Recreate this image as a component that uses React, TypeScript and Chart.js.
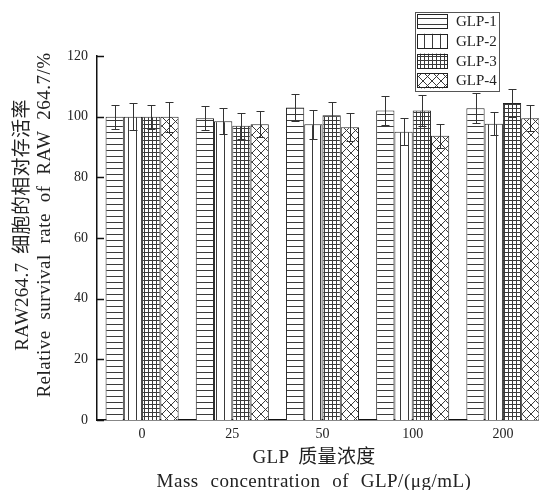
import { useEffect, useRef } from 'react';
import { Chart, registerables } from 'chart.js';

Chart.register(...registerables);

const categories = ['0', '25', '50', '100', '200'];
const seriesNames = ['GLP-1', 'GLP-2', 'GLP-3', 'GLP-4'];
const glp1Values = [100, 99.5, 103, 102, 102.8];
const glp2Values = [100, 98.5, 97.5, 95, 97.7];
const glp3Values = [100, 97, 100.5, 102, 104.5];
const glp4Values = [100, 97.5, 96.5, 93.7, 99.5];
const glp1Errors = [4, 4, 4.4, 4.8, 5];
const glp2Errors = [4.5, 4.2, 4.8, 4.4, 3.9];
const glp3Errors = [4, 4.3, 4.3, 5, 4.5];
const glp4Errors = [5, 4.3, 4.6, 3.9, 4.2];
const yTickValues = [0, 20, 40, 60, 80, 100, 120];
const yTitleLines = ['RAW264.7 细胞的相对存活率', 'Relative survival rate of RAW 264.7/%'];
const xTitleLines = ['GLP 质量浓度', 'Mass concentration of GLP/(μg/mL)'];

const FONT = '"Liberation Serif", "Noto Sans CJK SC", serif';
const INK = '#222';

const seriesValues = [glp1Values, glp2Values, glp3Values, glp4Values];
const seriesErrors = [glp1Errors, glp2Errors, glp3Errors, glp4Errors];
const patternKinds = ['h', 'v', 'grid', 'cross'];

function makePattern(kind: string): CanvasPattern {
  const c = document.createElement('canvas');
  const size = kind === 'h' ? 6 : kind === 'v' ? 8 : kind === 'grid' ? 4 : 9;
  c.width = size;
  c.height = size;
  const g = c.getContext('2d')!;
  g.fillStyle = '#fff';
  g.fillRect(0, 0, size, size);
  g.strokeStyle = '#3a3a3a';
  g.lineWidth = 1;
  g.beginPath();
  if (kind === 'h') {
    g.moveTo(0, 0.5);
    g.lineTo(size, 0.5);
  } else if (kind === 'v') {
    g.moveTo(0.5, 0);
    g.lineTo(0.5, size);
  } else if (kind === 'grid') {
    g.moveTo(0, 0.5);
    g.lineTo(size, 0.5);
    g.moveTo(0.5, 0);
    g.lineTo(0.5, size);
  } else {
    g.moveTo(-1, -1);
    g.lineTo(size + 1, size + 1);
    g.moveTo(size + 1, -1);
    g.lineTo(-1, size + 1);
  }
  g.stroke();
  return g.createPattern(c, 'repeat')!;
}

const errorBarPlugin = {
  id: 'errorBars',
  afterDatasetsDraw(chart: any) {
    const ctx = chart.ctx;
    const yScale = chart.scales.y;
    ctx.save();
    ctx.strokeStyle = '#333';
    ctx.lineWidth = 1;
    chart.data.datasets.forEach((_ds: any, i: number) => {
      const meta = chart.getDatasetMeta(i);
      meta.data.forEach((el: any, j: number) => {
        const v = seriesValues[i][j];
        const e = seriesErrors[i][j];
        const x = Math.round(el.x) + 0.5;
        const yt = Math.round(yScale.getPixelForValue(v + e)) + 0.5;
        const yb = Math.round(yScale.getPixelForValue(v - e)) + 0.5;
        ctx.beginPath();
        ctx.moveTo(x, yt);
        ctx.lineTo(x, yb);
        ctx.moveTo(x - 4, yt);
        ctx.lineTo(x + 4, yt);
        ctx.moveTo(x - 4, yb);
        ctx.lineTo(x + 4, yb);
        ctx.stroke();
      });
    });
    ctx.restore();
  },
};

const innerTicksPlugin = {
  id: 'innerTicks',
  afterDraw(chart: any) {
    const ctx = chart.ctx;
    const yScale = chart.scales.y;
    const left = chart.chartArea.left;
    ctx.save();
    ctx.strokeStyle = '#111';
    ctx.lineWidth = 1.5;
    yTickValues.forEach((v) => {
      const y = Math.round(yScale.getPixelForValue(v)) + 0.5;
      ctx.beginPath();
      ctx.moveTo(left, y);
      ctx.lineTo(left + 7, y);
      ctx.stroke();
    });
    ctx.restore();
  },
};

const legendPlugin = {
  id: 'patternLegend',
  afterDraw(chart: any) {
    const ctx = chart.ctx;
    const bx = 415.5;
    const by = 12.5;
    const bw = 84;
    const bh = 79;
    ctx.save();
    ctx.fillStyle = '#fff';
    ctx.fillRect(bx, by, bw, bh);
    ctx.strokeStyle = '#555';
    ctx.lineWidth = 1;
    ctx.strokeRect(bx, by, bw, bh);
    ctx.font = `15px ${FONT}`;
    ctx.textBaseline = 'middle';
    ctx.textAlign = 'left';
    chart.data.datasets.forEach((ds: any, i: number) => {
      const sy = 14 + i * 19.8;
      ctx.fillStyle = ds.backgroundColor;
      ctx.fillRect(417, sy, 31, 15);
      ctx.strokeStyle = INK;
      ctx.strokeRect(417.5, Math.round(sy) + 0.5, 30, 14);
      ctx.fillStyle = INK;
      ctx.fillText(ds.label, 456, sy + 8);
    });
    ctx.restore();
  },
};

const titlePlugin = {
  id: 'axisTitles',
  afterDraw(chart: any) {
    const ctx = chart.ctx as any;
    ctx.save();
    ctx.fillStyle = INK;
    ctx.font = `19px ${FONT}`;
    ctx.textAlign = 'center';
    ctx.textBaseline = 'alphabetic';
    ctx.letterSpacing = '0.3px';
    ctx.wordSpacing = '4px';
    ctx.fillText(xTitleLines[0], 314, 463);
    ctx.letterSpacing = '0.5px';
    ctx.wordSpacing = '6.5px';
    ctx.fillText(xTitleLines[1], 314, 487);
    ctx.translate(0, 225);
    ctx.rotate(-Math.PI / 2);
    ctx.letterSpacing = '0.3px';
    ctx.wordSpacing = '4px';
    ctx.fillText(yTitleLines[0], 0, 28);
    ctx.letterSpacing = '0.5px';
    ctx.wordSpacing = '5.5px';
    ctx.fillText(yTitleLines[1], 0, 50);
    ctx.restore();
  },
};

export default function App() {
  const canvasRef = useRef<HTMLCanvasElement | null>(null);

  useEffect(() => {
    const canvas = canvasRef.current;
    if (!canvas) return;
    const patterns = patternKinds.map((k) => makePattern(k));
    const chart = new Chart(canvas, {
      type: 'bar',
      data: {
        labels: categories,
        datasets: seriesNames.map((name, i) => ({
          label: name,
          data: seriesValues[i],
          backgroundColor: patterns[i] as any,
          borderColor: INK,
          borderWidth: 1,
          borderSkipped: 'start',
          categoryPercentage: 0.81,
          barPercentage: 1,
        })),
      },
      options: {
        responsive: false,
        animation: false,
        layout: { padding: { top: 56, right: 2, left: 0, bottom: 0 } },
        plugins: { legend: { display: false }, tooltip: { enabled: false } },
        scales: {
          x: {
            grid: { display: false, drawTicks: false },
            border: { display: true, color: '#111', width: 1.5 },
            ticks: { font: { family: FONT, size: 14 }, color: INK, padding: 6 },
            afterFit: (s: any) => {
              s.height = 70;
            },
          },
          y: {
            min: 0,
            max: 120,
            grid: { display: false, drawTicks: false },
            border: { display: true, color: '#111', width: 1.5 },
            ticks: { font: { family: FONT, size: 14 }, color: INK, padding: 9, stepSize: 20 },
            afterBuildTicks: (s: any) => {
              s.ticks = yTickValues.map((v) => ({ value: v }));
            },
            afterFit: (s: any) => {
              s.width = 97;
            },
          },
        },
      },
      plugins: [errorBarPlugin, innerTicksPlugin, legendPlugin, titlePlugin],
    });
    return () => chart.destroy();
  }, []);

  return (
    <div
      style={{
        position: 'fixed',
        left: 0,
        top: 0,
        width: 539,
        height: 490,
        overflow: 'hidden',
        background: '#fff',
      }}
    >
      <canvas ref={canvasRef} width={550} height={490} style={{ display: 'block', width: 550, height: 490 }} />
    </div>
  );
}
